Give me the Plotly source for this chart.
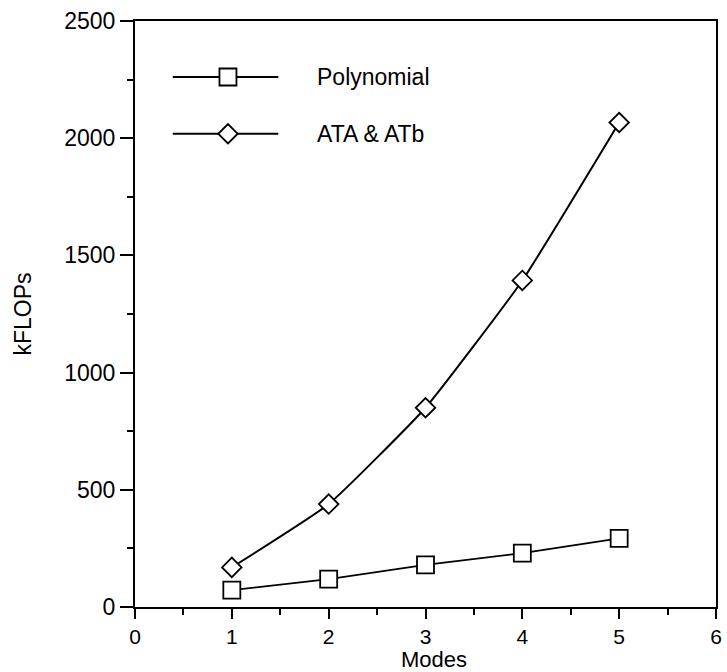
import plotly.graph_objects as go

# Data
modes = [1, 2, 3, 4, 5]
polynomial = [72, 119, 180, 230, 293]
ata_atb = [169, 439, 850, 1393, 2067]
series_names = ["Polynomial", "ATA & ATb"]

x_ticks = [0, 1, 2, 3, 4, 5, 6]
y_ticks = [0, 500, 1000, 1500, 2000, 2500]

FONT = "Liberation Sans, Arial, Helvetica, sans-serif"
FS = 23

fig = go.Figure()

sq = dict(symbol="square", size=17, color="white", line=dict(color="black", width=1.8))
dm = dict(symbol="diamond", size=15, color="white", line=dict(color="black", width=1.8))

fig.add_trace(go.Scatter(x=modes, y=polynomial, mode="lines+markers",
                         line=dict(color="black", width=1.8), marker=sq,
                         showlegend=False, cliponaxis=False))
fig.add_trace(go.Scatter(x=modes, y=ata_atb, mode="lines+markers",
                         line=dict(color="black", width=2, shape="spline", smoothing=0.4),
                         marker=dm, showlegend=False, cliponaxis=False))

# Hand-drawn style legend inside the plot
leg_x0, leg_x1, leg_xm, leg_tx = 0.39, 1.48, 0.96, 1.86
leg_y = [2261, 2019]
for name, yy, mk in zip(series_names, leg_y, [sq, dm]):
    fig.add_trace(go.Scatter(x=[leg_x0, leg_x1], y=[yy, yy], mode="lines",
                             line=dict(color="black", width=1.8), showlegend=False,
                             hoverinfo="skip"))
    fig.add_trace(go.Scatter(x=[leg_xm], y=[yy], mode="markers", marker=mk,
                             showlegend=False, hoverinfo="skip"))
    fig.add_annotation(x=leg_tx, y=yy, text=name, showarrow=False, xanchor="left",
                       yanchor="middle", font=dict(family=FONT, size=FS, color="black"))

axis_common = dict(
    showgrid=False, zeroline=False, showline=True, linecolor="black", linewidth=2,
    mirror=True, ticks="outside", tickwidth=1.5, tickcolor="black",
)

fig.update_xaxes(range=[0, 6], tickvals=x_ticks, ticktext=[str(v) for v in x_ticks],
                 ticklen=10, tickfont=dict(family=FONT, size=21, color="black"),
                 minor=dict(dtick=0.5, ticks="outside", ticklen=6, tickwidth=1.5,
                            tickcolor="black"),
                 **axis_common)
fig.update_yaxes(range=[0, 2500], tickvals=y_ticks, ticktext=[str(v) for v in y_ticks],
                 ticklen=13, tickfont=dict(family=FONT, size=FS, color="black"),
                 minor=dict(dtick=250, ticks="outside", ticklen=6, tickwidth=1.5,
                            tickcolor="black"),
                 title=dict(text="kFLOPs", font=dict(family=FONT, size=FS, color="black"),
                            standoff=26),
                 **axis_common)

# x-axis title placed tight under the tick labels, as in the reference
fig.add_annotation(x=0.515, xref="paper", y=0, yref="paper", yanchor="bottom",
                   yshift=-66, text="Modes", showarrow=False, borderpad=0,
                   font=dict(family=FONT, size=22, color="black"))

fig.update_layout(
    width=727, height=672,
    margin=dict(l=135, r=5, t=21, b=65),
    paper_bgcolor="white", plot_bgcolor="white",
    font=dict(family=FONT, size=FS, color="black"),
)

fig.write_html("out.html")
